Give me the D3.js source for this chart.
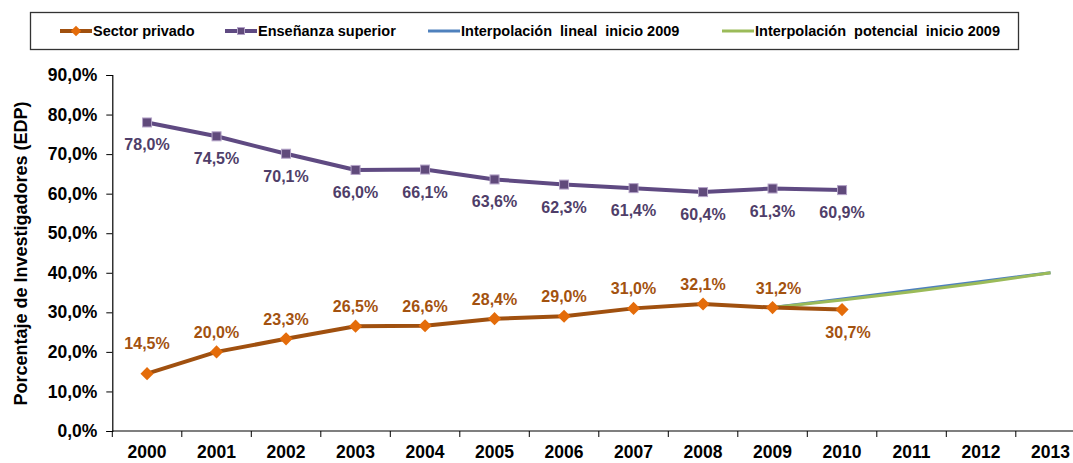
<!DOCTYPE html>
<html><head><meta charset="utf-8">
<script src="https://cdn.jsdelivr.net/npm/d3@7"></script>
<style>
body{margin:0;background:#fff;}
svg{display:block;font-family:"Liberation Sans",Arial,sans-serif;}
</style></head>
<body><svg id="c" width="1073" height="463"></svg>
<script>
const years = [2000,2001,2002,2003,2004,2005,2006,2007,2008,2009,2010,2011,2012,2013];
const privYears = [2000,2001,2002,2003,2004,2005,2006,2007,2008,2009,2010];
const sectorPrivado = [14.5,20.0,23.3,26.5,26.6,28.4,29.0,31.0,32.1,31.2,30.7];
const ensenanzaSuperior = [78.0,74.5,70.1,66.0,66.1,63.6,62.3,61.4,60.4,61.3,60.9];
const interpYears = [2009,2010,2011,2012,2013];
const interpLineal = [31.2,33.4,35.6,37.8,40.0];
const interpPotencial = [31.2,33.1,35.2,37.5,40.0];
const yTicks = [0,10,20,30,40,50,60,70,80,90];
const legendLabels = ["Sector privado","Enseñanza superior","Interpolación  lineal  inicio 2009","Interpolación  potencial  inicio 2009"];
const yTitle = "Porcentaje de Investigadores (EDP)";

const svg = d3.select("#c");
const x = d3.scaleBand().domain(years).range([112.3,1085.3]).padding(0);
const y = d3.scaleLinear().domain([0,90]).range([431,75]);
const cx = d => x(d) + x.bandwidth()/2;
const loc = d3.formatLocale({decimal:",",thousands:".",grouping:[3],currency:["","€"]});
const fmt = v => loc.format(".1f")(v) + "%";

const C = {orangeLine:"#A0500F", orangeMark:"#E46C0A", orangeText:"#A3520F",
  purpleLine:"#5F4A82", purpleMark:"#604A7B", purpleStroke:"#B3A2C7", purpleText:"#4F3E69",
  blue:"#4F81BD", green:"#9BBB59"};

// Y axis
const yAxis = svg.append("g").attr("transform","translate(112.3,0)")
  .call(d3.axisLeft(y).tickValues(yTicks).tickSize(6).tickPadding(9).tickFormat(fmt));
yAxis.select(".domain").attr("stroke","#000").attr("stroke-width",1.2);
yAxis.selectAll(".tick line").attr("stroke","#000");
yAxis.selectAll("text").attr("font-size",17.5).attr("font-weight","bold").attr("fill","#000")
  .attr("font-family","Liberation Sans, Arial, sans-serif");

// X axis
const xAxis = svg.append("g").attr("transform","translate(0,431)")
  .call(d3.axisBottom(x).tickSize(0).tickPadding(15));
xAxis.select(".domain").remove();
xAxis.selectAll("text").attr("font-size",17.5).attr("font-weight","bold").attr("fill","#000")
  .attr("font-family","Liberation Sans, Arial, sans-serif");
svg.append("line").attr("x1",x.range()[0]).attr("x2",1073).attr("y1",431).attr("y2",431)
  .attr("stroke","#000").attr("stroke-width",1.2);
svg.append("g").selectAll("line").data(years).join("line")
  .attr("x1",d=>x(d)).attr("x2",d=>x(d)).attr("y1",431).attr("y2",437)
  .attr("stroke","#000");

// Y title
svg.append("text").attr("transform","translate(27,253.5) rotate(-90)")
  .attr("text-anchor","middle").attr("font-size",18).attr("font-weight","bold").attr("fill","#000")
  .text(yTitle);

const line = d3.line();
// Interpolations
svg.append("path").attr("d",line(interpYears.map((d,i)=>[cx(d),y(interpLineal[i])])))
  .attr("fill","none").attr("stroke",C.blue).attr("stroke-width",3);
svg.append("path").attr("d",line(interpYears.map((d,i)=>[cx(d),y(interpPotencial[i])])))
  .attr("fill","none").attr("stroke",C.green).attr("stroke-width",3);

// Enseñanza superior
svg.append("path").attr("d",line(privYears.map((d,i)=>[cx(d),y(ensenanzaSuperior[i])])))
  .attr("fill","none").attr("stroke",C.purpleLine).attr("stroke-width",4).attr("stroke-linejoin","round");
svg.append("g").selectAll("rect").data(ensenanzaSuperior).join("rect")
  .attr("x",(d,i)=>cx(privYears[i])-4.5).attr("y",d=>y(d)-4.5).attr("width",9).attr("height",9)
  .attr("fill",C.purpleMark).attr("stroke",C.purpleStroke).attr("stroke-width",1);
svg.append("g").selectAll("text").data(ensenanzaSuperior).join("text")
  .attr("x",(d,i)=>cx(privYears[i])).attr("y",d=>y(d)+28)
  .attr("text-anchor","middle").attr("font-size",16).attr("font-weight","bold").attr("fill",C.purpleText)
  .text(fmt);

// Sector privado
svg.append("path").attr("d",line(privYears.map((d,i)=>[cx(d),y(sectorPrivado[i])])))
  .attr("fill","none").attr("stroke",C.orangeLine).attr("stroke-width",4).attr("stroke-linejoin","round");
const diamond = d3.symbol().type(d3.symbolDiamond2).size(110);
svg.append("g").selectAll("path").data(sectorPrivado).join("path")
  .attr("transform",(d,i)=>`translate(${cx(privYears[i])},${y(d)})`)
  .attr("d",diamond).attr("fill",C.orangeMark);
svg.append("g").selectAll("text").data(sectorPrivado).join("text")
  .attr("x",(d,i)=>cx(privYears[i]) + (privYears[i]>=2009 ? 6 : 0))
  .attr("y",(d,i)=>{
     const yr = privYears[i];
     if (yr===2010) return y(d)+28;
     if (yr===2000) return y(d)-25;
     return y(d)-14;
  })
  .attr("text-anchor","middle").attr("font-size",16).attr("font-weight","bold").attr("fill",C.orangeText)
  .text(fmt);

// Legend
const lg = svg.append("g");
lg.append("rect").attr("x",30.5).attr("y",12.5).attr("width",988).attr("height",37)
  .attr("fill","#fff").attr("stroke","#333").attr("stroke-width",1.3);
const legendX = [60,225,428,722];
const legendStyles = [
  {c:C.orangeLine, w:4, m:"diamond"},
  {c:C.purpleLine, w:4, m:"square"},
  {c:C.blue, w:3, m:null},
  {c:C.green, w:3, m:null}];
legendLabels.forEach((t,i)=>{
  const g = lg.append("g").attr("transform",`translate(${legendX[i]},31)`);
  g.append("line").attr("x1",0).attr("x2",32).attr("stroke",legendStyles[i].c).attr("stroke-width",legendStyles[i].w);
  if (legendStyles[i].m==="diamond")
    g.append("path").attr("transform","translate(16,0)").attr("d",d3.symbol().type(d3.symbolDiamond2).size(70)).attr("fill",C.orangeMark);
  if (legendStyles[i].m==="square")
    g.append("rect").attr("x",12.5).attr("y",-3.5).attr("width",7).attr("height",7).attr("fill",C.purpleMark).attr("stroke",C.purpleStroke);
  g.append("text").attr("x",33).attr("y",5).attr("font-size",14.5).attr("font-weight","bold").attr("fill","#000")
    .attr("xml:space","preserve").style("white-space","pre").text(t);
});
</script></body></html>
